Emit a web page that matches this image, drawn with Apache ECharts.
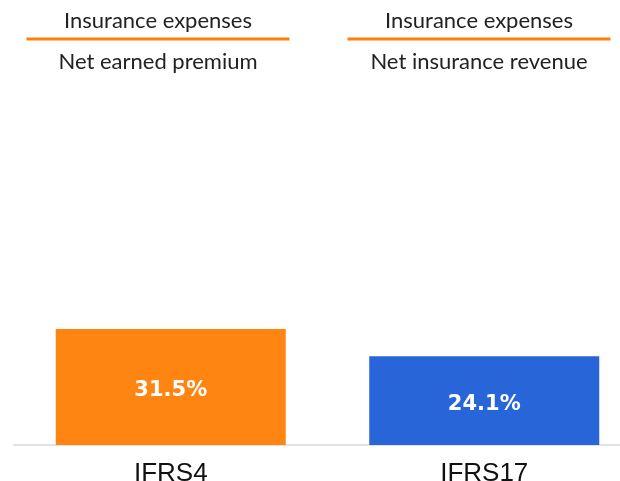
<!DOCTYPE html>
<html>
<head>
<meta charset="utf-8">
<script src="https://cdn.jsdelivr.net/npm/echarts@6/dist/echarts.min.js"></script>
<style>
  html, body { margin: 0; padding: 0; background: #fff; }
  #chart { width: 620px; height: 481px; }
</style>
</head>
<body>
<div id="chart"></div>
<script>
// data
var categories = ['IFRS4', 'IFRS17'];
var ratioValues = [31.5, 24.1];
var numerators = ['Insurance expenses', 'Insurance expenses'];
var denominators = ['Net earned premium', 'Net insurance revenue'];

// styles
var barColors = ['#FF8512', '#2865D9'];
var headerCenters = [158, 479];

var chart = echarts.init(document.getElementById('chart'));

//ratio headers: numerator / orange rule / denominator
var graphics = [];
for (var i = 0; i < numerators.length; i++) {
    graphics.push({
        type: 'text', x: headerCenters[i], y: 10,
        style: { text: numerators[i], font: '22px Lato', fill: '#222', align: 'center', verticalAlign: 'top' }
    });
    graphics.push({
        type: 'line',
        shape: { x1: headerCenters[i] - 131.5, y1: 39, x2: headerCenters[i] + 131.5, y2: 39 },
        style: { stroke: '#FF7F0A', lineWidth: 3 }
    });
    graphics.push({
        type: 'text', x: headerCenters[i], y: 51,
        style: { text: denominators[i], font: '22px Lato', fill: '#222', align: 'center', verticalAlign: 'top' }
    });
}

var option = {
    animation: false,
    backgroundColor: '#fff',
    grid: { left: 14, right: -21, top: 77, bottom: 36, outerBoundsMode: 'none', containLabel: false },
    xAxis: {
        type: 'category',
        data: categories,
        axisTick: { show: false },
        axisLine: { lineStyle: { color: '#e2e2e2', width: 2 } },
        axisLabel: { color: '#111', fontFamily: 'Liberation Sans', fontSize: 26, margin: 16 }
    },
    yAxis: {
        type: 'value', min: 0, max: 100, show: false,
        splitLine: { show: false }
    },
    series: [{
        type: 'bar',
        barWidth: 230,
        data: ratioValues.map(function (v, i) {
            return { value: v, itemStyle: { color: barColors[i] } };
        }),
        label: {
            show: true,
            position: 'inside',
            offset: [0, 4],
            color: '#fff',
            fontFamily: 'DejaVu Sans',
            fontWeight: 'bold',
            fontSize: 21,
            formatter: function (p) { return p.value.toFixed(1) + '%'; }
        }
    }],
    graphic: graphics
};
chart.setOption(option);
</script>
</body>
</html>
